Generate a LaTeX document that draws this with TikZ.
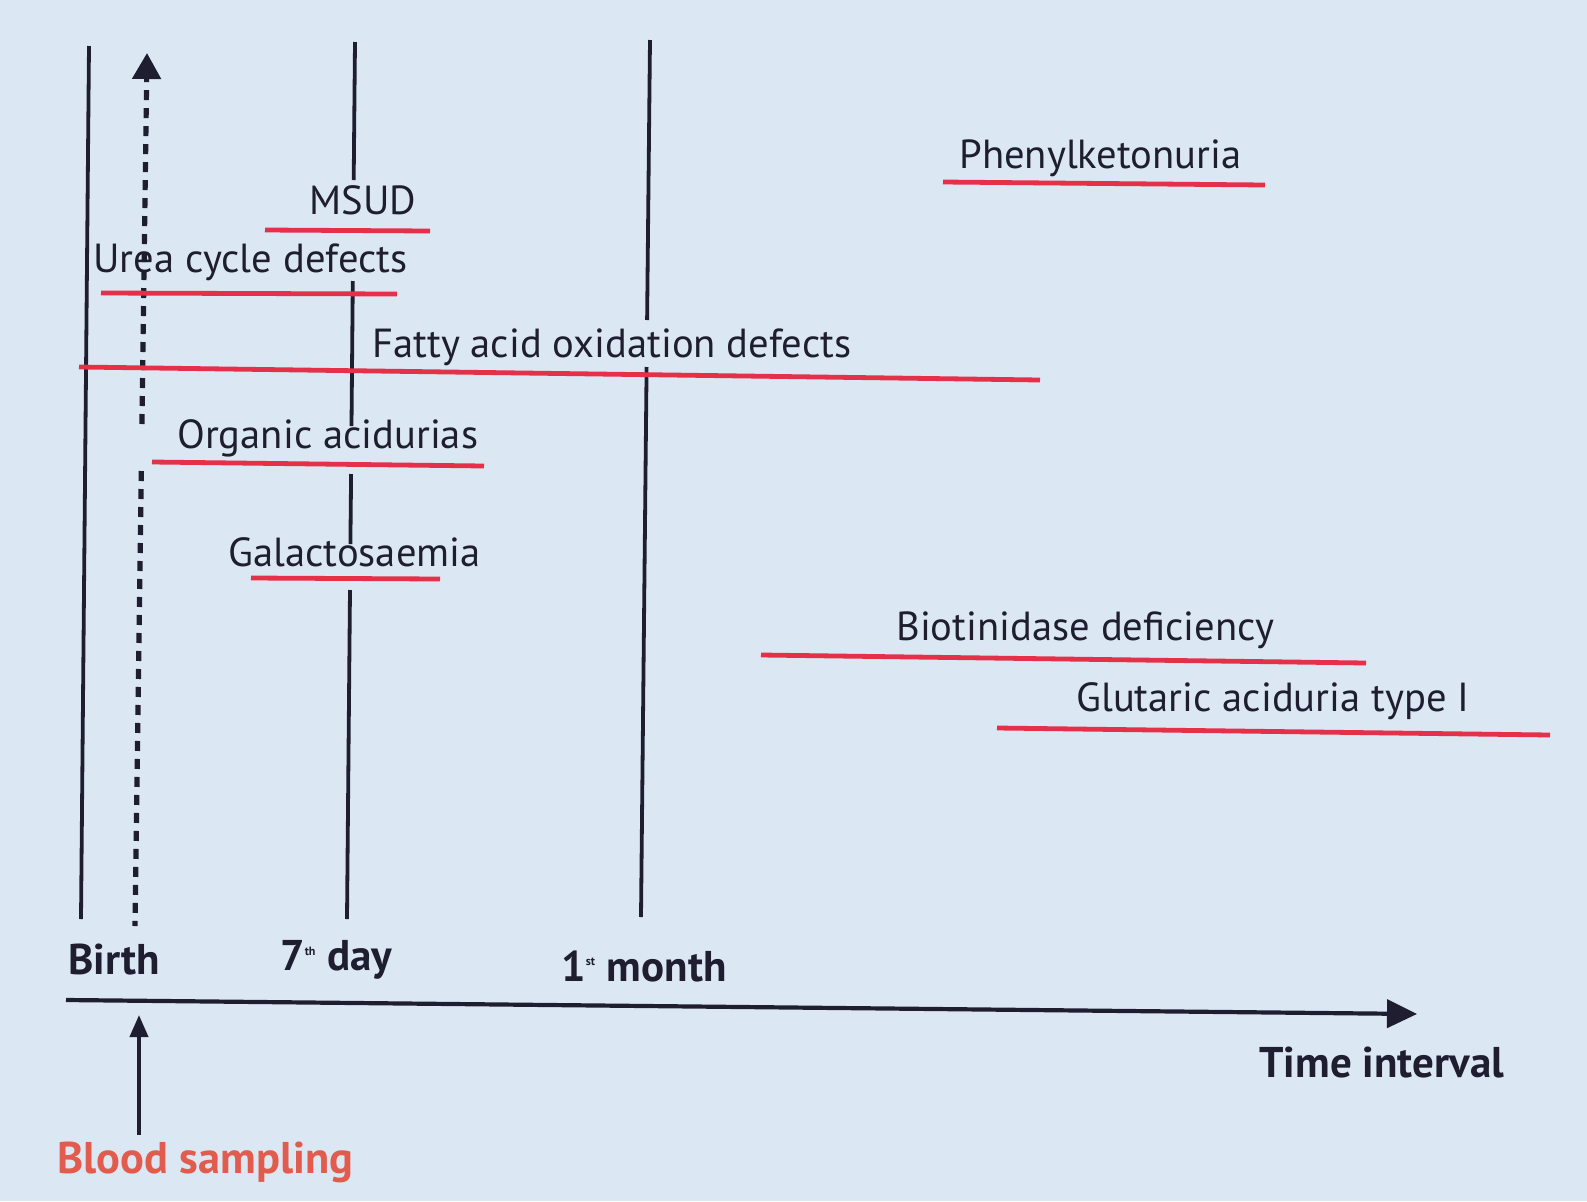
\documentclass[tikz,border=0pt]{standalone}
\usepackage{fontspec}
\setmainfont{PT Sans}
\usetikzlibrary{arrows.meta}
\definecolor{bg}{RGB}{220,231,244}
\definecolor{ink}{RGB}{30,30,48}
\definecolor{redl}{RGB}{228,48,72}
\definecolor{blood}{RGB}{226,92,78}
\begin{document}
\begin{tikzpicture}[x=0.5pt,y=-0.5pt,
  vline/.style={ink, line width=1.9pt},
  dline/.style={ink, line width=2.6pt, dash pattern=on 5pt off 4pt},
  bar/.style={redl, line width=2.4pt},
  lbl/.style={ink, inner sep=0pt, anchor=west, font=\fontsize{20.3}{24}\selectfont},
  axlbl/.style={ink, inner sep=0pt, anchor=west, font=\fontsize{21.5}{26}\selectfont\bfseries}
]
\fill[bg] (0,0) rectangle (1587,1201);
\useasboundingbox (0,0) rectangle (1587,1201);

% Birth line
\coordinate (bT) at (89,46); \coordinate (bB) at (81,919);
\draw[vline] (bT) -- (bB);

% dashed arrow (blood sampling time)
\coordinate (dT) at (147,53);
\coordinate (dG1) at (141.9,424);
\coordinate (dG2) at (141.3,471);
\coordinate (dB) at (135,926);
\draw[dline, -{Triangle[length=13pt,width=14pt]}] (dG1) -- (dT);
\draw[dline] (dG2) -- (dB);

% 7th day line
\coordinate (s1a) at (355,42);  \coordinate (s1b) at (353.7,180);
\coordinate (s2a) at (352.8,281); \coordinate (s2b) at (351.5,426);
\coordinate (s3a) at (351.1,474); \coordinate (s3b) at (350.4,544);
\coordinate (s4a) at (350,590);  \coordinate (s4b) at (347,919);
\draw[vline] (s1a) -- (s1b);
\draw[vline] (s2a) -- (s2b);
\draw[vline] (s3a) -- (s3b);
\draw[vline] (s4a) -- (s4b);

% 1st month line
\coordinate (m1a) at (650,40);  \coordinate (m1b) at (647.1,320);
\coordinate (m2a) at (646.6,367); \coordinate (m2b) at (641,917);
\draw[vline] (m1a) -- (m1b);
\draw[vline] (m2a) -- (m2b);

% disorders
\node[lbl] (pku) at (959,158) {Phenylketonuria};
\coordinate (pkuL) at (943,182); \coordinate (pkuR) at (1265,185);
\draw[bar] (pkuL) -- (pkuR);

\node[lbl] (msud) at (309,200) {MSUD};
\coordinate (msudL) at (265,230); \coordinate (msudR) at (430,231);
\draw[bar] (msudL) -- (msudR);

\node[lbl] (urea) at (93,262) {Urea cycle defects};
\coordinate (ureaL) at (101,293); \coordinate (ureaR) at (397,294);
\draw[bar] (ureaL) -- (ureaR);

\node[lbl] (fao) at (372,347) {Fatty acid oxidation defects};
\coordinate (faoL) at (79,367); \coordinate (faoR) at (1040,380);
\draw[bar] (faoL) -- (faoR);

\node[lbl] (oa) at (177,438) {Organic acidurias};
\coordinate (oaL) at (152,462); \coordinate (oaR) at (484,466);
\draw[bar] (oaL) -- (oaR);

\node[lbl] (gal) at (228,552) {Galactosaemia};
\coordinate (galL) at (251,578); \coordinate (galR) at (440,579);
\draw[bar] (galL) -- (galR);

\node[lbl] (bio) at (896,630) {Biotinidase deficiency};
\coordinate (bioL) at (761,655); \coordinate (bioR) at (1366,663);
\draw[bar] (bioL) -- (bioR);

\node[lbl] (ga1) at (1076,701) {Glutaric aciduria type I};
\coordinate (ga1L) at (997,728); \coordinate (ga1R) at (1550,735);
\draw[bar] (ga1L) -- (ga1R);

% time axis
\coordinate (axL) at (66,1000); \coordinate (axR) at (1417,1014);
\draw[ink, line width=2.1pt, -{Triangle[length=15pt,width=14pt]}] (axL) -- (axR);

\node[axlbl] (birth) at (68,960) {Birth};
\node[axlbl] (day7) at (280,960) {7\textsuperscript{\fontsize{6}{7}\selectfont th} day};
\node[axlbl] (month1) at (561,966) {1\textsuperscript{\fontsize{6}{7}\selectfont st} month};
\node[axlbl] (time) at (1259,1063) {Time interval};

% blood sampling
\node[axlbl, text=blood, font=\fontsize{22.2}{26}\selectfont\bfseries] (blood) at (57,1162) {Blood sampling};
\coordinate (bsB) at (139,1135); \coordinate (bsT) at (139,1015);
\draw[ink, line width=2pt, -{Triangle[length=11pt,width=9pt]}] (bsB) -- (bsT);
\end{tikzpicture}
\end{document}
